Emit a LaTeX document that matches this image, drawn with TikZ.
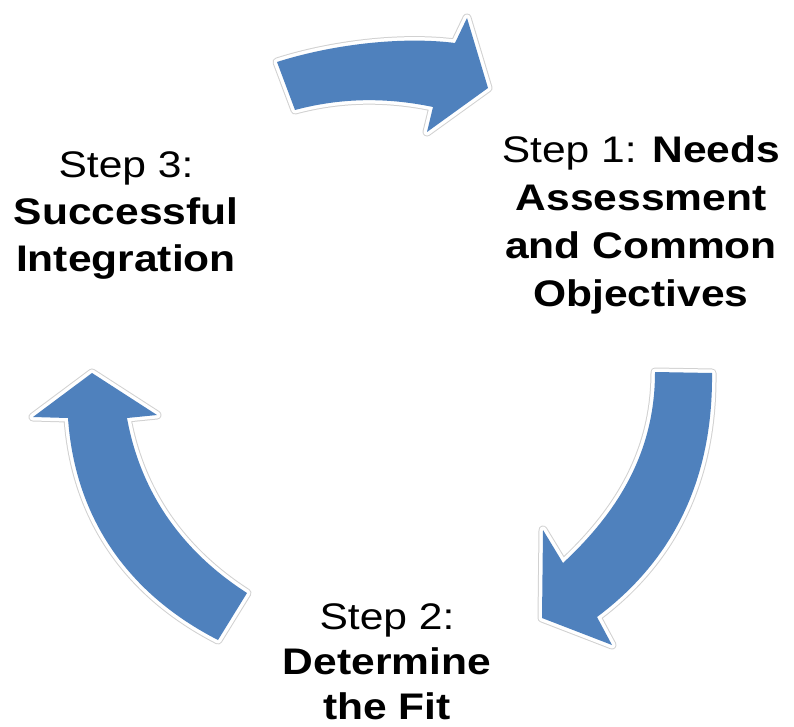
\documentclass[tikz,border=0pt]{standalone}
\usepackage{fontspec}
\setmainfont[FakeStretch=1.15]{Liberation Sans}
\definecolor{arrowblue}{HTML}{4F81BD}
\tikzset{
  halo/.style={draw=black!18, line width=9pt, line join=round},
  rim/.style={draw=white, line width=7pt, line join=round},
  body/.style={fill=arrowblue},
  steplabel/.style={font=\fontsize{37}{47}\selectfont, align=center, inner sep=0pt, anchor=north}
}
\begin{document}
\begin{tikzpicture}[x=1pt,y=-1pt]
\useasboundingbox (0,0) rectangle (794,727);
\clip (0,0) rectangle (794,727);
% top arrow (towards step 1)
\def\arrowA{(277,62) .. controls (330,45) and (400,36) .. (455,43) -- (467,18) -- (488,88) -- (427,132) -- (433,107) .. controls (385,97) and (340,98) .. (295,110) -- cycle}
% right arrow (towards step 2)
\def\arrowB{(655,372) -- (712,373) .. controls (713,470) and (680,555) .. (597,617) -- (612,645) -- (542,618) -- (543,530) -- (563,563) .. controls (620,510) and (655,450) .. (655,372) -- cycle}
% left arrow (towards step 3)
\def\arrowC{(92,373) -- (157,415) -- (127,418) .. controls (140,490) and (180,550) .. (247,593) -- (218,640) .. controls (130,595) and (75,520) .. (68,418) -- (33,417) -- cycle}
\foreach \p in {\arrowA,\arrowB,\arrowC}{
  \path[halo] \p;
  \path[rim] \p;
}
\path[body] \arrowA;
\path[body] \arrowB;
\path[body] \arrowC;
\node[steplabel, font=\fontsize{37}{48}\selectfont] (s1) at (641,135) {Step 1: \textbf{Needs}\\\textbf{Assessment}\\\textbf{and Common}\\\textbf{Objectives}};
\node[steplabel, font=\fontsize{37}{45}\selectfont] (s2) at (387,603) {Step 2:\\\textbf{Determine}\\\textbf{the Fit}};
\node[steplabel] (s3) at (126,151) {Step 3:\\\textbf{Successful}\\\textbf{Integration}};
\end{tikzpicture}
\end{document}
